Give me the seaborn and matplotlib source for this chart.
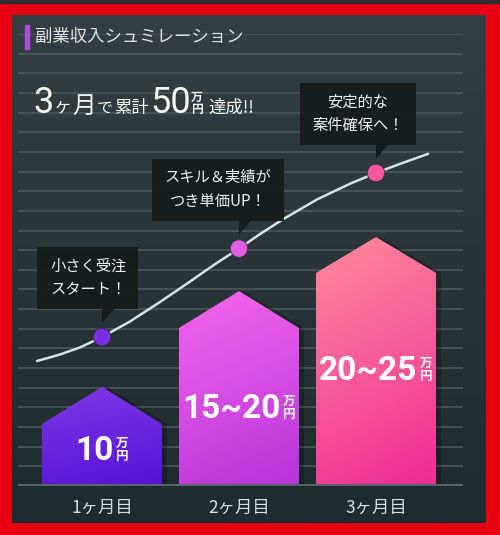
import numpy as np
import matplotlib
matplotlib.use("Agg")
import matplotlib.pyplot as plt
import seaborn as sns
from matplotlib.patches import Polygon, Rectangle
from matplotlib.colors import to_rgb

# ---- data (y in grid-line units, x = month index) ----
months = ["1ヶ月目", "2ヶ月目", "3ヶ月目"]
bar_top = [3.16, 8.04, 10.84]      # shoulder of each house-shaped bar
roof_top = [5.04, 9.92, 12.67]     # peak of the roof
income_num = ["10", "15~20", "20~25"]
bar_top_colors = ["#8238e6", "#f566ea", "#ff8a9e"]
bar_bottom_colors = ["#5312d6", "#b834dc", "#f02c94"]

curve_x = [-0.474, -0.307, -0.161, 0.0, 0.204, 0.423, 0.642, 0.825, 1.0,
           1.153, 1.321, 1.569, 1.810, 2.0, 2.175, 2.380]
curve_y = [6.36, 6.69, 7.05, 7.58, 8.37, 9.36, 10.40, 11.29, 12.08,
           12.82, 13.57, 14.58, 15.38, 15.93, 16.39, 16.90]
point_x = [0, 1, 2]
point_y = [7.58, 12.08, 15.93]
point_colors = ["#7b2fe4", "#e25ce6", "#f5589a"]

callouts = ["小さく受注\nスタート！", "スキル＆実績が\nつき単価UP！", "安定的な\n案件確保へ！"]
title = "副業収入シュミレーション"

# ---- layout (pixels) ----
label_base = [1.32, 3.46, 5.39]              # baseline of the value labels
callout_span = [(-65, 36), (-87, 45), (-76, 40)]

sns.set_theme(style="white")
plt.rcParams["font.family"] = ["Noto Sans CJK JP", "DejaVu Sans"]
NUM_FONT = ["Roboto", "DejaVu Sans"]

fig = plt.figure(figsize=(5, 5.35), dpi=100, facecolor="#e60012")

# background panel
bg = fig.add_axes([0, 0, 1, 1], zorder=0)
bg.axis("off")
bg.add_patch(Rectangle((0, 0), 500, 3, color="#2e2e2e"))
t = np.linspace(0, 1, 256)[:, None, None]
c0, c1 = np.array(to_rgb("#353f43")), np.array(to_rgb("#1e2b2f"))
bg.imshow(c0 + (c1 - c0) * t, extent=(12, 486, 523, 15), aspect="auto")
bg.set_xlim(0, 500)
bg.set_ylim(535, 0)

# main chart axes
ax = fig.add_axes([18 / 500, 49 / 535, 445 / 500, 452 / 535], zorder=1)
ax.patch.set_alpha(0)
sns.barplot(x=months, y=bar_top, hue=months, palette=bar_top_colors,
            width=0.876, legend=False, ax=ax, zorder=2)

bars = list(ax.patches)
yy, xx = np.mgrid[0:1:200j, 0:1:100j]
tt = (0.8 * (1 - yy) + 0.2 * xx)[..., None]
for i, bar in enumerate(bars):
    x0, w, h = bar.get_x(), bar.get_width(), bar.get_height()
    pts = [(x0, 0), (x0, h), (x0 + w / 2, roof_top[i]), (x0 + w, h), (x0 + w, 0)]
    shadow = Polygon([(x + 0.035, y) for x, y in pts], closed=True,
                     facecolor="black", alpha=0.25, edgecolor="none", zorder=1.9)
    ax.add_patch(shadow)
    house = Polygon(pts, closed=True, facecolor="none", edgecolor="none")
    ax.add_patch(house)
    top, bot = np.array(to_rgb(bar_top_colors[i])), np.array(to_rgb(bar_bottom_colors[i]))
    ax.imshow(top + (bot - top) * tt, extent=(x0, x0 + w, 0, roof_top[i]),
              origin="lower", aspect="auto", clip_path=house, zorder=2)
    bar.set_visible(False)

sns.lineplot(x=curve_x, y=curve_y, ax=ax, color="#d5e2e2", lw=1.8, zorder=3,
             solid_joinstyle="round", solid_capstyle="round")
sns.scatterplot(x=point_x, y=point_y, hue=months, palette=point_colors, s=160,
                edgecolor="#3a2a48", linewidth=0.6, legend=False, ax=ax, zorder=4)

ax.axhline(0, color="#58636a", lw=3, zorder=2.5)
ax.set_xlim(-0.613, 2.635)
ax.set_ylim(0, 23)
ax.set_yticks(np.arange(1, 24))
ax.grid(axis="y", color="#4f5a5e", lw=1.1)
ax.grid(axis="x", visible=False)
ax.set_axisbelow(True)
ax.tick_params(length=0, labelleft=False, axis="both")
ax.tick_params(axis="x", pad=9, labelsize=12.5, labelcolor="#d8e0e0")
ax.set_xlabel("")
ax.set_ylabel("")
for s in ax.spines.values():
    s.set_visible(False)

# overlay for texts and callouts (pixel coordinates, y down)
ov = fig.add_axes([0, 0, 1, 1], zorder=3)
ov.axis("off")
ov.patch.set_alpha(0)
ov.set_xlim(0, 500)
ov.set_ylim(535, 0)


def px(x, y):
    dx, dy = ax.transData.transform((x, y))
    return dx, 535 - dy


# title
ov.add_patch(Rectangle((25, 25), 4, 24, color="#b348d8"))
ov.text(35, 37, title, fontsize=12.5, color="#dde2e2", va="center", ha="left")

# headline
white = "#f4f6f6"
ov.text(33, 113, "3", fontsize=26, family=NUM_FONT, color=white, va="baseline")
ov.text(54, 113, "ヶ", fontsize=13, color=white, ha="left", va="baseline")
ov.text(72.5, 113, "月", fontsize=17, color=white, ha="left", va="baseline")
ov.text(96.5, 113, "で", fontsize=11.5, color=white, ha="left", va="baseline")
ov.text(114, 113, "累計", fontsize=12.5, color=white, ha="left", va="baseline")
ov.text(150, 113, "50", fontsize=26, family=NUM_FONT, color=white, va="baseline")
ov.text(197, 100.5, "万", fontsize=8.5, fontweight="bold", color=white, ha="center", va="baseline")
ov.text(197, 112.5, "円", fontsize=8.5, fontweight="bold", color=white, ha="center", va="baseline")
ov.text(208, 113, "達成!!", fontsize=12.5, color=white, va="baseline")

# callouts
for i, txt in enumerate(callouts):
    mx, my = px(point_x[i], point_y[i])
    l, r = callout_span[i]
    bottom = my - 28
    ov.add_patch(Rectangle((mx + l, bottom - 62), r - l, 62, facecolor="#161b1d",
                           alpha=0.93, edgecolor="none"))
    ov.add_patch(Polygon([(mx, bottom), (mx + 12, bottom), (mx, my - 14)],
                         closed=True, facecolor="#161b1d", alpha=0.93, edgecolor="none"))
    if i == 0:
        ov.text(mx + l + 13, bottom - 31, txt, fontsize=11, color="#eef0f0",
                ha="left", va="center", linespacing=1.5)
    else:
        ov.text(mx + (l + r) / 2, bottom - 31, txt, fontsize=11, color="#eef0f0",
                ha="center", va="center", linespacing=1.5, multialignment="center")

# value labels inside the bars
fig.canvas.draw()
renderer = fig.canvas.get_renderer()
for i in range(len(months)):
    cx, base = px(i, label_base[i])
    num = ov.text(0, base, income_num[i], fontsize=24, fontweight="bold",
                  family=NUM_FONT, color="white", ha="left", va="baseline")
    w_num = num.get_window_extent(renderer).width
    unit_w = 13
    left = cx - (w_num + 2 + unit_w) / 2
    num.set_x(left)
    ux = left + w_num + 2 + unit_w / 2
    ov.text(ux, base - 13, "万", fontsize=9, fontweight="bold", color="white",
            ha="center", va="baseline")
    ov.text(ux, base, "円", fontsize=9, fontweight="bold", color="white",
            ha="center", va="baseline")

fig.savefig("out.png", dpi=100, facecolor=fig.get_facecolor())
